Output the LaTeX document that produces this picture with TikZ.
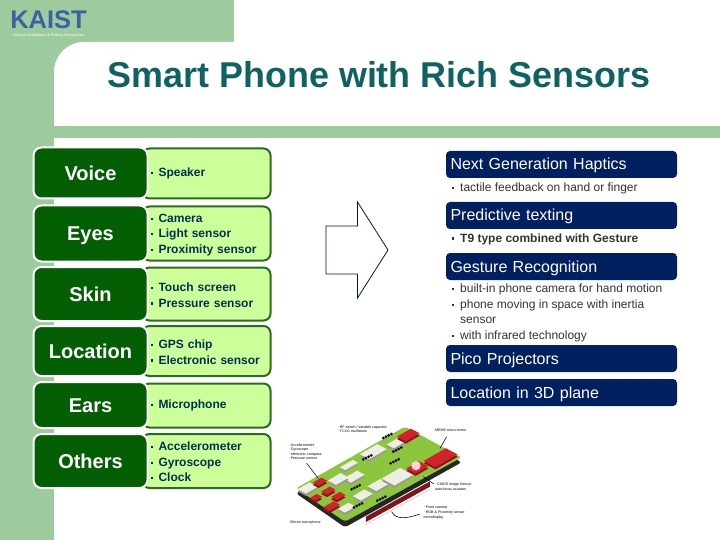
\documentclass[tikz,border=0pt]{standalone}
\usepackage{fontspec}
\setmainfont{Liberation Sans}
\usetikzlibrary{calc}
\definecolor{bgg}{HTML}{9DCB9D}
\definecolor{darkg}{HTML}{045F04}
\definecolor{lightg}{HTML}{CCFF99}
\definecolor{edgeg}{HTML}{2E6B22}
\definecolor{navy}{HTML}{002060}
\definecolor{titlec}{HTML}{0F6262}
\definecolor{detc}{HTML}{003050}
\definecolor{logoc}{HTML}{3A62A6}
\definecolor{boardg}{HTML}{8CC63F}
\definecolor{chipr}{HTML}{D2232A}
\definecolor{chipw}{HTML}{EEEEE4}
\newcommand{\bul}{\makebox[10pt][l]{\hspace{2pt}\rule[2.5pt]{2.2pt}{2.2pt}}}
\newcommand{\tp}{\rule{0pt}{11pt}}
\newcommand{\chip}[5]{%
\fill[#5!65!black] ($(#1,#2+7)+#3*(.87,-.5)+#4*(.88,.47)$)--($(#1,#2+7)+#3*(.87,-.5)-#4*(.88,.47)$)--($(#1,#2+7)-#3*(.87,-.5)-#4*(.88,.47)$)--($(#1,#2+7)-#3*(.87,-.5)+#4*(.88,.47)$)--cycle;
\fill[#5] ($(#1,#2)+#3*(.87,-.5)+#4*(.88,.47)$)--($(#1,#2)+#3*(.87,-.5)-#4*(.88,.47)$)--($(#1,#2)-#3*(.87,-.5)-#4*(.88,.47)$)--($(#1,#2)-#3*(.87,-.5)+#4*(.88,.47)$)--cycle;}
\newcommand{\pins}[2]{%
\fill[black] (#1,#2) circle (4.5);\fill[black] (#1+8,#2-4) circle (4.5);\fill[black] (#1+16,#2-8) circle (4.5);\fill[black] (#1+24,#2-12) circle (4.5);}

\begin{document}
\begin{tikzpicture}[x=1pt,y=-1pt]
\tikzset{
lab/.style={draw=white,line width=2pt,fill=darkg,rounded corners=8pt,text=white,minimum width=114pt,inner sep=0pt,text height=14.4pt,text depth=0pt,font=\bfseries\fontsize{20}{20}\selectfont},
det/.style={draw=edgeg,line width=2pt,fill=lightg,rounded corners=7pt,text=detc,text width=116pt,inner xsep=6pt,inner ysep=0pt,align=left,font=\bfseries\fontsize{12}{15.5}\selectfont},
head/.style={fill=navy,rounded corners=4pt,text=white,minimum width=231pt,minimum height=27pt,text width=222pt,inner xsep=4.5pt,inner ysep=0pt,text height=14pt,text depth=3pt,align=left,font=\fontsize{16}{16}\selectfont},
bull/.style={anchor=west,inner sep=0pt,text=black!80,align=left,font=\fontsize{12}{15.5}\selectfont},
tiny/.style={anchor=west,inner sep=0pt,align=left,font=\fontsize{3.6}{4.6}\selectfont}
}
\useasboundingbox (0,0) rectangle (720,540);

% background
\fill[bgg] (0,0) rectangle (234,80);
\fill[bgg] (0,0) rectangle (54,540);
\fill[white] (54,126) [rounded corners=30pt] -- (54,42) [sharp corners] -- (720,42) -- (720,126) -- cycle;
\fill[bgg] (54,126) rectangle (720,138);

% logo and title
\node[inner sep=0pt,text=logoc,font=\bfseries\fontsize{25.5}{25.5}\selectfont] (logo) at (48.5,20) {KAIST};
\node[inner sep=0pt,text=white,font=\fontsize{3.8}{3.8}\selectfont] (tag) at (48.5,36) {Artificial Intelligence \& Pattern Recognition};
\node[inner sep=0pt,text=titlec,font=\bfseries\fontsize{35.9}{36}\selectfont] (title) at (379,75) {Smart Phone with Rich Sensors};

% left table
\node[det,minimum height=50pt] (d1) at (206.5,173.5) {\bul Speaker};
\node[det,minimum height=54pt] (d2) at (206.5,233.5) {\tp\bul Camera\\\bul Light sensor\\\bul Proximity sensor};
\node[det,minimum height=53pt] (d3) at (206.5,294) {\tp\bul Touch screen\\\bul Pressure sensor};
\node[det,minimum height=50pt] (d4) at (206.5,351) {\tp\bul GPS chip\\\bul Electronic sensor};
\node[det,minimum height=44pt] (d5) at (206.5,405.5) {\bul Microphone};
\node[det,minimum height=54pt] (d6) at (206.5,461) {\tp\bul Accelerometer\\\bul Gyroscope\\\bul Clock};

\node[lab,minimum height=51pt] (voice) at (90.5,173) {Voice};
\node[lab,minimum height=56pt] (eyes) at (90.5,233.5) {Eyes};
\node[lab,minimum height=54pt] (skin) at (90.5,294) {Skin};
\node[lab,minimum height=50pt] (location) at (90.5,351) {Location};
\node[lab,minimum height=46pt] (ears) at (90.5,405) {Ears};
\node[lab,minimum height=54pt] (others) at (90.5,461) {Others};

% arrow
\draw[navy!70!black,line width=.8pt,line join=miter] (326,226) -- (357.5,226) -- (357.5,202) -- (388,250) -- (357.5,298) -- (357.5,274) -- (326,274) -- cycle;

% right list
\node[head] (h1) at (561.5,164.5) {Next Generation Haptics};
\node[bull] (b1) at (450,188.5) {\bul tactile feedback on hand or finger};
\node[head] (h2) at (561.5,215.5) {Predictive texting};
\node[bull,font=\bfseries\fontsize{12}{15.5}\selectfont] (b2) at (450,239) {\bul T9 type combined with Gesture};
\node[head] (h3) at (561.5,266.5) {Gesture Recognition};
\node[bull] (b3) at (450,313) {\bul built-in phone camera for hand motion\\\bul phone moving in space with inertia\\\hspace*{10pt}sensor\\\bul with infrared technology};
\node[head] (h4) at (561.5,358.5) {Pico Projectors};
\node[head] (h5) at (561.5,392.5) {Location in 3D plane};

% phone
\begin{scope}[shift={(280,410)},x=.3333pt,y=-.3333pt]
\fill[chipr!60!black] (258,320) -- (450,214) -- (450,230) -- (258,336) -- cycle;
\fill[black!85,rounded corners=3pt] (48,250) -- (375,65) -- (545,157) -- (195,352) -- cycle;
\fill[boardg,rounded corners=3pt] (48,235) -- (375,50) -- (545,142) -- (195,335) -- cycle;
\chip{280}{125}{30}{16}{chipw}
\chip{350}{98}{22}{12}{chipw}
\chip{207}{165}{22}{9}{chipw}
\chip{222}{200}{24}{13}{chipw}
\chip{175}{207}{22}{14}{chipw}
\chip{83}{234}{20}{14}{chipw}
\chip{248}{255}{20}{14}{chipw}
\chip{295}{225}{22}{15}{chipw}
\chip{352}{200}{32}{22}{chipw}
\chip{200}{293}{18}{12}{chipw}
\chip{385}{75}{24}{15}{chipr}
\chip{482}{143}{38}{20}{chipr}
\chip{412}{172}{22}{16}{chipr}
\chip{120}{215}{15}{10}{chipr}
\chip{145}{242}{15}{10}{chipr}
\chip{108}{262}{12}{9}{chipr}
\chip{175}{258}{15}{10}{chipr}
\chip{155}{288}{18}{11}{chipr}
\fill[white!80!chipr] (408,167) circle (14);
\pins{310}{84}
\pins{250}{148}
\pins{332}{160}
\pins{292}{272}
\pins{222}{292}
\pins{340}{125}
\pins{215}{238}
\draw[chipr!50,line width=.3pt] (255,345) -- (450,238);
\draw[black,line width=.5pt] (80,160) -- (115,205);
\draw[black,line width=.5pt] (500,80) -- (480,115);
\draw[black,line width=.5pt] (430,200) -- (462,222);
\draw[black,line width=.6pt] (335,305) .. controls (345,325) and (370,330) .. (420,312);
\node[tiny] (t1) at (172,58) {$\cdot$RF switch / variable capacitor\\$\cdot$TCXO oscillators};
\node[tiny] (t2) at (465,60) {MEMS micro-mirror};
\node[tiny] (t3) at (25,125) {$\cdot$Accelerometer\\$\cdot$Gyroscope\\$\cdot$electronic compass\\$\cdot$Pressure sensor};
\node[tiny] (t4) at (465,230) {$\cdot$CMOS image Sensor\\auto-focus actuator};
\node[tiny] (t5) at (430,308) {$\cdot$Front camera\\$\cdot$RGB \& Proximity sensor\\microdisplay};
\node[tiny] (t6) at (30,337) {Silicon microphone};
\end{scope}
\end{tikzpicture}
\end{document}
